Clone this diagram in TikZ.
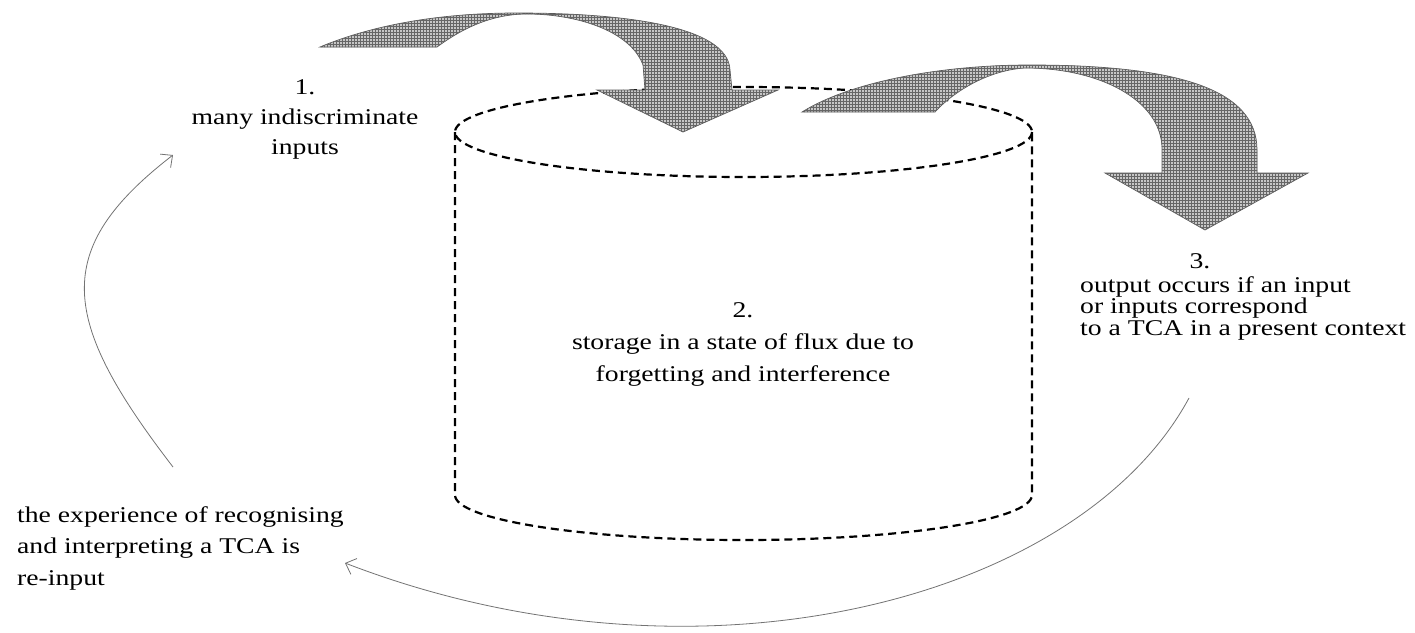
\documentclass[tikz,border=0pt]{standalone}
\usepackage{fontspec}
\setmainfont{Liberation Serif}
\newfontfamily\widefont[FakeStretch=1.23]{Liberation Serif}
\usetikzlibrary{arrows.meta,patterns}
\tikzset{
  cyl/.style={draw=black, line width=2.2pt, dash pattern=on 8pt off 5pt},
  blockarrow/.style={fill=black!22, draw=black!65, line width=0.7pt,
    postaction={pattern=grid, pattern color=black!60}},
  thinarrow/.style={draw=black!55, line width=0.8pt, -{Straight Barb[length=9pt,width=17pt,line width=0.8pt]}},
  lbl/.style={inner sep=0pt}
}
\newcommand{\lblfont}[1]{\widefont\fontsize{22.5}{#1}\selectfont}
\begin{document}
\begin{tikzpicture}[x=1pt,y=-1pt]
\useasboundingbox (0,0) rectangle (1415,632);
% cylinder
\draw[cyl] (743.5,132) ellipse [x radius=288.5, y radius=45];
\draw[cyl] (455,132) -- (455,495) arc[start angle=180, end angle=360, x radius=288.5, y radius=-45] -- (1032,132);
% block arrow 1
\draw[blockarrow] (320,47) .. controls (380,22) and (450,13) .. (517,13)
  .. controls (620,13) and (728,25) .. (730,70) -- (732,90) -- (778,90) -- (683,132) -- (597,90) -- (645,90) -- (643,65)
  .. controls (630,30) and (575,14) .. (527,14) .. controls (490,14) and (460,30) .. (437,47) -- cycle;
% block arrow 2
\draw[blockarrow] (802,112) .. controls (850,82) and (940,65) .. (1030,65)
  .. controls (1180,65) and (1257,90) .. (1257,150) -- (1257,173) -- (1308,173) -- (1205,230) -- (1105,173) -- (1162,173) -- (1162,147)
  .. controls (1160,100) and (1100,68) .. (1025,68) .. controls (990,70) and (955,90) .. (935,112) -- cycle;
% texts
\node[lbl, align=center, font=\lblfont{30}] (n1) at (305,119.5) {1.\\many indiscriminate\\inputs};
\node[lbl, align=center, font=\lblfont{32}] (n2) at (743,344) {2.\\storage in a state of flux due to\\forgetting and interference};
\node[lbl, anchor=base, font=\lblfont{22}] (n3num) at (1200,268) {3.};
\node[lbl, align=left, anchor=west, font=\lblfont{21.5}] (n3) at (1080,308) {output occurs if an input\\or inputs correspond\\to a TCA in a present context};
\node[lbl, align=left, anchor=west, font=\lblfont{31.5}] (n4) at (17,548) {the experience of recognising\\and interpreting a TCA is\\re-input};
% feedback arrows
\coordinate (fbs) at (173,467);
\coordinate (fbe) at (173,155);
\coordinate (rbs) at (1189,398);
\coordinate (rbe) at (345,563);
\draw[thinarrow] (fbs) .. controls (60,320) and (50,250) .. (fbe);
\draw[thinarrow] (rbs) .. controls (1080,600) and (700,700) .. (rbe);
\end{tikzpicture}
\end{document}
